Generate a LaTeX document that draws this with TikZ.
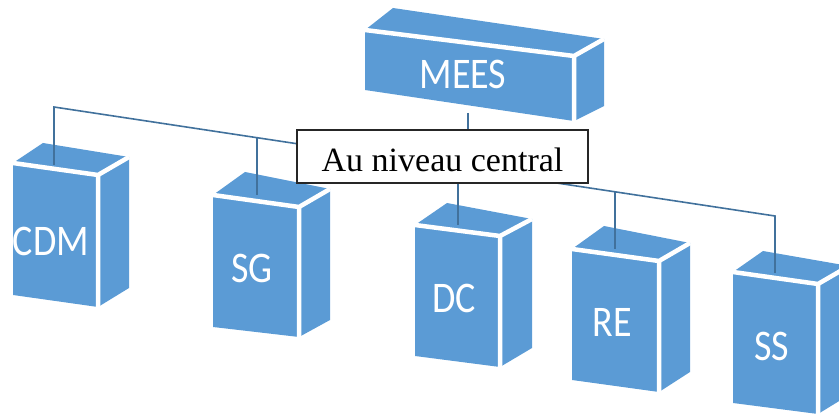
\documentclass[tikz,border=0pt]{standalone}
\usepackage{graphicx}
\usepackage{fontspec}
\setmainfont{Liberation Serif}
\newfontfamily\boxfont{Carlito}
\definecolor{boxblue}{HTML}{5B9BD5}
\definecolor{linkblue}{HTML}{41719C}
% block captions are slightly stretched upward, following the block faces
\newcommand{\tallcaption}[1]{\scalebox{1}[1.15]{#1}}
\tikzset{
  boxface/.style={fill=boxblue},
  facegap/.style={draw=white, line width=4.5pt, line cap=butt},
  boxtext/.style={text=white, font=\boxfont\fontsize{38}{40}\selectfont, inner sep=0pt},
  link/.style={draw=linkblue, line width=1.6pt},
  levelbox/.style={draw=black!85, line width=1.3pt, fill=white, inner sep=0pt,
    minimum width=291pt, minimum height=53pt, text height=32pt, text depth=1.6pt,
    font=\fontsize{34}{40}\selectfont}
}
% a perspective block: name, then front TL, TR, BR, BL, back TL, TR, BR
\newcommand{\orgblock}[8]{%
  \coordinate (#1-ftl) at (#2);
  \coordinate (#1-ftr) at (#3);
  \coordinate (#1-fbr) at (#4);
  \coordinate (#1-fbl) at (#5);
  \coordinate (#1-btl) at (#6);
  \coordinate (#1-btr) at (#7);
  \coordinate (#1-bbr) at (#8);
  \fill[boxface] (#1-ftl) -- (#1-btl) -- (#1-btr) -- (#1-bbr) -- (#1-fbr) -- (#1-fbl) -- cycle;
  \draw[facegap] (#1-ftl) -- (#1-ftr) -- (#1-btr) (#1-ftr) -- (#1-fbr);
}
\begin{document}
\begin{tikzpicture}[x=1pt, y=-1pt]
\useasboundingbox (0,0) rectangle (839,414);
\clip (0,0) rectangle (839,414);

% blocks
\orgblock{mees}{365,30}{574,56}{574,121}{365,90}{393,8}{604,39}{604,106}
\orgblock{cdm}{13,163}{98,175}{98,307}{13,295}{43,143}{129,157}{129,288}
\orgblock{sg}{213,195}{299,207}{299,337}{213,327}{245,172}{330,189}{330,320}
\orgblock{dc}{415,225}{500,236}{500,367}{415,356}{447,203}{532,219}{532,348}
\orgblock{re}{572,249}{659,261}{659,392}{572,380}{604,226}{690,243}{690,372}
\orgblock{ss}{733,272}{818,284}{818,414}{733,403}{763,251}{849,266}{849,395}

% block labels
\node[boxtext] (meestxt) at (463,74)  {\tallcaption{MEES}};
\node[boxtext] (cdmtxt)  at (51,241)  {\tallcaption{CDM}};
\node[boxtext] (sgtxt)   at (252,268) {\tallcaption{SG}};
\node[boxtext] (dctxt)   at (454,298) {\tallcaption{DC}};
\node[boxtext] (retxt)   at (612,322) {\tallcaption{RE}};
\node[boxtext] (sstxt)   at (772,346) {\tallcaption{SS}};

% connector anchors
\coordinate (meesdrop) at (468,113);
\coordinate (busmees)  at (468,169.6);
\coordinate (buscdm)   at (54,107);
\coordinate (bussg)    at (257,137.6);
\coordinate (busdc)    at (458,168);
\coordinate (busre)    at (615,191.7);
\coordinate (busss)    at (775,216);
\coordinate (cdmtop)   at (54,165);
\coordinate (sgtop)    at (257,195);
\coordinate (dctop)    at (458,225);
\coordinate (retop)    at (615,249);
\coordinate (sstop)    at (775,273);

% connectors
\draw[link] (meesdrop) -- (busmees);
\draw[link] (cdmtop) -- (buscdm) -- (busss) -- (sstop);
\draw[link] (bussg) -- (sgtop);
\draw[link] (busdc) -- (dctop);
\draw[link] (busre) -- (retop);

% level caption
\node[levelbox] (level) at (442.5,156.5) {Au niveau central};
\end{tikzpicture}
\end{document}
